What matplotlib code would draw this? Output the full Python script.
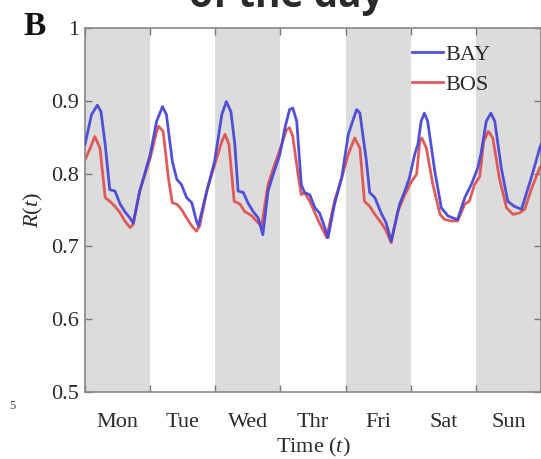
import matplotlib
matplotlib.use('Agg')
import matplotlib.pyplot as plt

# readings (time in days from Monday 00:00)
bay_t = [0.00, 0.10, 0.19, 0.245, 0.31, 0.38, 0.46, 0.54, 0.61, 0.69, 0.74, 0.84,
         1.00, 1.10, 1.19, 1.25, 1.34, 1.41, 1.48, 1.56, 1.64, 1.71, 1.74, 1.87,
         1.99, 2.10, 2.17, 2.24, 2.30, 2.35, 2.43, 2.50, 2.58, 2.66, 2.73, 2.81,
         2.89, 2.99, 3.07, 3.14, 3.19, 3.25, 3.32, 3.37, 3.45, 3.53, 3.60, 3.68,
         3.73, 3.83, 3.94, 4.04, 4.09, 4.17, 4.22, 4.32, 4.37, 4.45, 4.55, 4.62,
         4.70, 4.83, 4.91, 4.98, 5.06, 5.11, 5.16, 5.21, 5.26, 5.37, 5.47, 5.57,
         5.65, 5.72, 5.83, 5.93, 6.03, 6.08, 6.16, 6.23, 6.29, 6.39, 6.49, 6.59,
         6.70, 6.85, 6.98, 7.00]
bay_r = [0.840, 0.881, 0.894, 0.885, 0.840, 0.778, 0.776, 0.758, 0.748, 0.739, 0.732, 0.776,
         0.826, 0.872, 0.892, 0.881, 0.817, 0.792, 0.785, 0.767, 0.760, 0.735, 0.728, 0.776,
         0.817, 0.881, 0.899, 0.885, 0.840, 0.776, 0.774, 0.760, 0.748, 0.739, 0.716, 0.776,
         0.799, 0.826, 0.863, 0.888, 0.890, 0.872, 0.785, 0.774, 0.771, 0.753, 0.746, 0.726,
         0.712, 0.758, 0.794, 0.853, 0.867, 0.888, 0.883, 0.817, 0.774, 0.767, 0.745, 0.733,
         0.707, 0.758, 0.776, 0.794, 0.826, 0.840, 0.872, 0.883, 0.872, 0.803, 0.753, 0.742,
         0.739, 0.737, 0.767, 0.785, 0.808, 0.828, 0.872, 0.883, 0.872, 0.808, 0.762, 0.755,
         0.751, 0.794, 0.835, 0.840]

bos_t = [0.00, 0.08, 0.15, 0.23, 0.31, 0.38, 0.46, 0.54, 0.61, 0.69, 0.74, 0.84,
         1.00, 1.10, 1.13, 1.20, 1.28, 1.34, 1.41, 1.48, 1.56, 1.64, 1.71, 1.76,
         1.87, 1.99, 2.10, 2.15, 2.21, 2.29, 2.38, 2.45, 2.56, 2.63, 2.71, 2.81,
         2.91, 3.02, 3.09, 3.14, 3.19, 3.27, 3.32, 3.37, 3.45, 3.53, 3.60, 3.71,
         3.83, 3.94, 4.04, 4.14, 4.22, 4.29, 4.37, 4.45, 4.55, 4.62, 4.70, 4.80,
         4.91, 5.01, 5.09, 5.14, 5.17, 5.24, 5.34, 5.45, 5.52, 5.62, 5.72, 5.83,
         5.90, 5.98, 6.06, 6.12, 6.19, 6.26, 6.36, 6.47, 6.57, 6.67, 6.75, 6.85,
         6.98, 7.00]
bos_r = [0.819, 0.835, 0.851, 0.835, 0.767, 0.762, 0.755, 0.746, 0.735, 0.726, 0.730, 0.776,
         0.821, 0.858, 0.865, 0.858, 0.794, 0.760, 0.758, 0.751, 0.739, 0.728, 0.721, 0.728,
         0.776, 0.812, 0.844, 0.854, 0.840, 0.762, 0.758, 0.748, 0.742, 0.735, 0.728, 0.785,
         0.812, 0.840, 0.860, 0.863, 0.851, 0.799, 0.771, 0.774, 0.762, 0.746, 0.732, 0.712,
         0.762, 0.794, 0.826, 0.849, 0.835, 0.762, 0.755, 0.744, 0.732, 0.722, 0.705, 0.748,
         0.771, 0.789, 0.799, 0.844, 0.849, 0.835, 0.785, 0.744, 0.737, 0.735, 0.735, 0.758,
         0.762, 0.785, 0.796, 0.844, 0.858, 0.849, 0.794, 0.753, 0.744, 0.746, 0.751, 0.778,
         0.808, 0.810]

days = ['Mon', 'Tue', 'Wed', 'Thr', 'Fri', 'Sat', 'Sun']
yticks = [0.5, 0.6, 0.7, 0.8, 0.9, 1.0]
ytick_labels = ['0.5', '0.6', '0.7', '0.8', '0.9', '1']

plt.rcParams['font.family'] = ['Liberation Serif', 'DejaVu Serif']
plt.rcParams['mathtext.fontset'] = 'custom'
plt.rcParams['mathtext.rm'] = 'Liberation Serif'
plt.rcParams['mathtext.it'] = 'Liberation Serif:italic'

fig = plt.figure(figsize=(5.41, 4.59), dpi=100)
ax = fig.add_axes([85/541, 1 - 392/459, 456/541, 364/459])

# shaded days (Mon, Wed, Fri, Sun)
for i in range(0, len(days), 2):
    ax.axvspan(i, i + 1, color='#dcdcdc', lw=0, zorder=0)

ax.plot(bay_t, bay_r, color='#4848d6', lw=2.0, label='BAY', zorder=3,
        solid_joinstyle='round', alpha=0.95)
ax.plot(bos_t, bos_r, color='#e05252', lw=2.0, label='BOS', zorder=2,
        solid_joinstyle='round', alpha=0.95)

ax.set_xlim(0, 7)
ax.set_ylim(0.5, 1.0)
ax.set_yticks(yticks)
ax.set_yticklabels(ytick_labels)
ax.set_xticks(range(8))
ax.set_xticklabels([])
ax.set_xticks([i + 0.5 for i in range(7)], minor=True)
ax.set_xticklabels(days, minor=True)

ax.tick_params(which='major', direction='in', length=5, width=1, color='#777777',
               top=True, right=True, labelsize=16, labelcolor='#2a2a2a', pad=4)
ax.tick_params(axis='x', which='minor', length=0, labelsize=16, labelcolor='#2a2a2a', pad=15)
for s in ax.spines.values():
    s.set_color('#888888')
    s.set_linewidth(1.2)

ax.set_xlabel('Time ($\\mathit{t}$)', fontsize=16, color='#2a2a2a')
ax.xaxis.set_label_coords(0.5, -0.122)
ax.set_ylabel('$\\mathit{R}$($\\mathit{t}$)', fontsize=16, color='#2a2a2a')
ax.yaxis.set_label_coords(-0.088, 0.5)

leg = ax.legend(loc='upper left', bbox_to_anchor=(412/541, 1 - 44/459),
                bbox_transform=fig.transFigure, frameon=False, fontsize=16,
                handlelength=1.4, handletextpad=0.1, labelspacing=0.45,
                borderpad=0, borderaxespad=0)
for txt in leg.get_texts():
    txt.set_color('#2a2a2a')

# bits of the surrounding slide
fig.text(0.530, 1 - 7/459, 'of the day', family='Open Sans', weight='bold',
         fontsize=28, color='#2a2a2a', ha='center', va='baseline')
fig.text(23/541, 1 - 35/459, 'B', weight='bold', fontsize=24, color='#111111',
         ha='left', va='baseline')
fig.text(9/541, 1 - 409/459, '5', fontsize=9, color='#444444', ha='left', va='baseline')

fig.savefig('out.png', dpi=100)
